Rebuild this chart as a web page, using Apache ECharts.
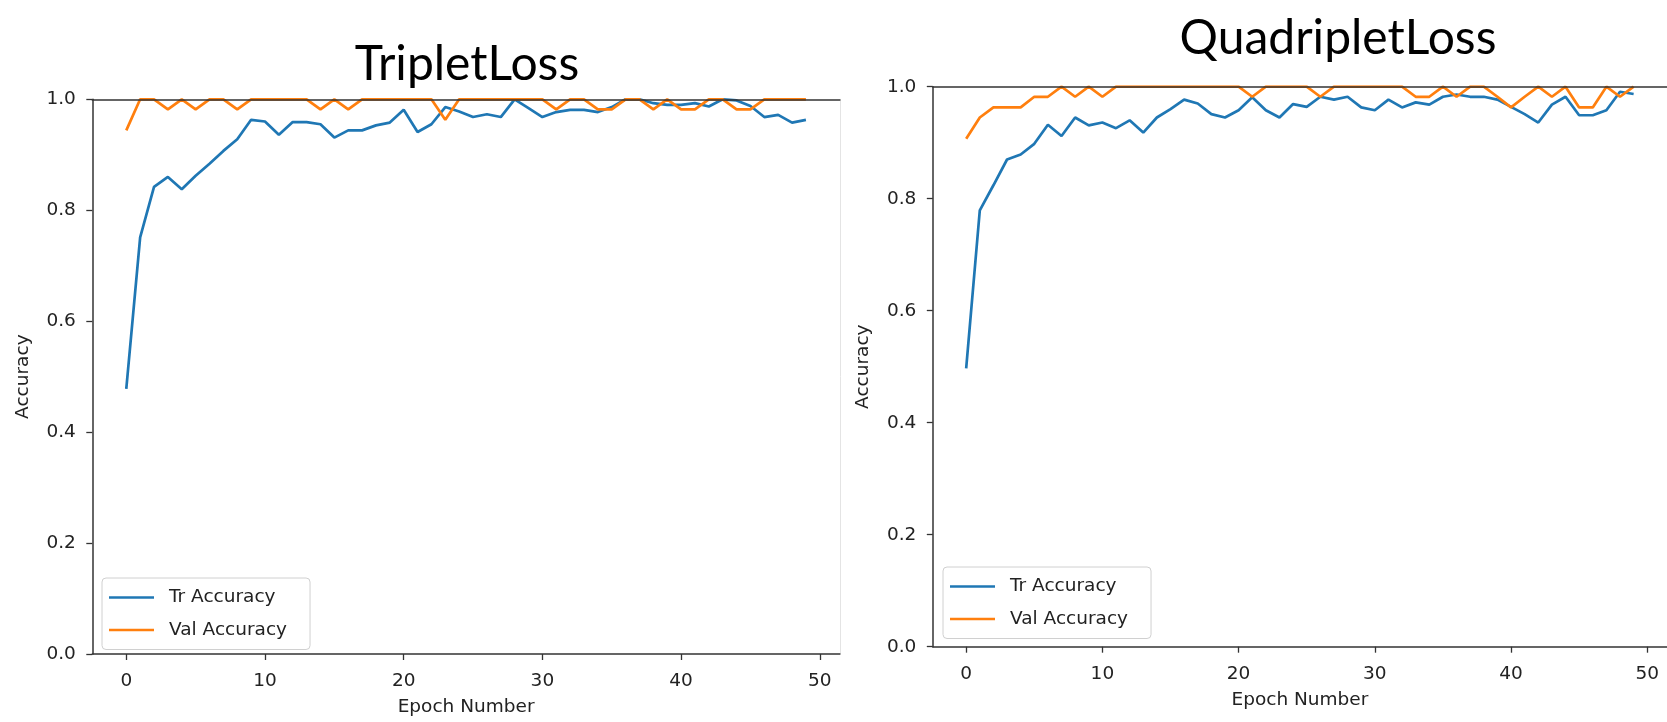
<!DOCTYPE html>
<html>
<head>
<meta charset="utf-8">
<script src="https://cdn.jsdelivr.net/npm/echarts@6/dist/echarts.min.js"></script>
<style>
html,body{margin:0;padding:0;background:#fff;}
#chart{width:1667px;height:722px;}
</style>
</head>
<body>
<div id="chart"></div>
<script>
// ---- data ----
const epochs = Array.from({length: 50}, (_, i) => i);
const xTicks = [0, 10, 20, 30, 40, 50];
const yTicks = [0, 0.2, 0.4, 0.6, 0.8, 1.0];
const titles = ['TripletLoss', 'QuadripletLoss'];
const seriesNames = ['Tr Accuracy', 'Val Accuracy'];

const tripletTr = [0.478,0.751,0.842,0.860,0.838,0.862,0.884,0.907,0.928,0.963,
  0.960,0.936,0.959,0.959,0.955,0.931,0.944,0.944,0.953,0.958,
  0.981,0.941,0.955,0.986,0.978,0.968,0.973,0.968,1.000,0.984,
  0.968,0.977,0.981,0.981,0.977,0.986,1.000,1.000,0.993,0.990,
  0.990,0.993,0.987,1.000,0.998,0.988,0.968,0.972,0.958,0.963];
const tripletVal = [0.944,1,1,0.982,1,0.982,1,1,0.982,1,
  1,1,1,1,0.982,1,0.982,1,1,1,
  1,1,1,0.963,1,1,1,1,1,1,
  1,0.982,1,1,0.982,0.982,1,1,0.982,1,
  0.982,0.982,1,1,0.982,0.982,1,1,1,1];
const quadTr = [0.497,0.779,0.824,0.870,0.879,0.898,0.932,0.912,0.945,0.931,
  0.936,0.926,0.940,0.918,0.945,0.960,0.977,0.970,0.951,0.945,
  0.958,0.981,0.958,0.945,0.969,0.964,0.982,0.977,0.982,0.963,
  0.958,0.977,0.963,0.972,0.968,0.982,0.986,0.982,0.982,0.977,
  0.964,0.951,0.936,0.968,0.982,0.949,0.949,0.958,0.991,0.987];
const quadVal = [0.907,0.945,0.963,0.963,0.963,0.982,0.982,1,0.982,1,
  0.982,1,1,1,1,1,1,1,1,1,
  1,0.982,1,1,1,1,0.982,1,1,1,
  1,1,1,0.982,0.982,1,0.982,1,1,0.982,
  0.963,0.982,1,0.982,1,0.963,0.963,1,0.982,1];

// ---- styles ----
const BLUE = '#1f77b4', ORANGE = '#ff7f0e';
const FONT = 'DejaVu Sans';
const FS = 18.5;
const SPINE = {show: true, onZero: false, lineStyle: {color: '#333', width: 1.5}};

function pairs(ys) { return epochs.map((e, i) => [e, ys[i]]); }

function bottomX(grid) {
  return {
    gridIndex: grid, type: 'value', position: 'bottom', min: -2.45, max: 51.45,
    axisLine: SPINE,
    axisTick: {show: true, inside: false, length: 6, customValues: xTicks, lineStyle: {color: '#333', width: 1.3}},
    axisLabel: {show: true, customValues: xTicks, margin: 17.5, fontSize: FS, fontFamily: FONT, color: '#222'},
    splitLine: {show: false},
    name: 'Epoch Number', nameLocation: 'middle', nameGap: 44,
    nameTextStyle: {fontSize: FS, fontFamily: FONT, color: '#222'}
  };
}
function topX(grid) {
  return {
    gridIndex: grid, type: 'value', position: 'top', min: -2.45, max: 51.45, z: 5,
    axisLine: SPINE,
    axisTick: {show: false}, axisLabel: {show: false}, splitLine: {show: false}
  };
}
function leftY(grid) {
  return {
    gridIndex: grid, type: 'value', position: 'left', min: 0, max: 1, interval: 0.2,
    axisLine: SPINE,
    axisTick: {show: true, inside: false, length: 6, lineStyle: {color: '#333', width: 1.3}},
    axisLabel: {margin: 16.5, fontSize: FS, fontFamily: FONT, color: '#222', formatter: v => v.toFixed(1)},
    splitLine: {show: false},
    name: 'Accuracy', nameLocation: 'middle', nameGap: 60, nameRotate: 90,
    nameTextStyle: {fontSize: FS, fontFamily: FONT, color: '#222'}
  };
}
function rightEdgeY(grid) {
  return {
    gridIndex: grid, type: 'value', position: 'right', min: 0, max: 1, interval: 0.2,
    axisLine: {show: true, onZero: false, lineStyle: {color: '#e4e4e4', width: 1}},
    axisTick: {show: false}, axisLabel: {show: false}, splitLine: {show: false}
  };
}
function line(name, data, color, xi, yi) {
  return {
    type: 'line', name: name, data: pairs(data), xAxisIndex: xi, yAxisIndex: yi,
    showSymbol: false, symbol: 'none', clip: true, color: color,
    lineStyle: {color: color, width: 2.7}, emphasis: {disabled: true}, z: 2
  };
}
function legend(left, top) {
  return {
    data: seriesNames, orient: 'vertical', left: left, top: top,
    icon: 'rect', itemWidth: 45, itemHeight: 2.7, itemGap: 13.5,
    backgroundColor: 'rgba(255,255,255,0.8)', borderColor: '#d0d0d0', borderWidth: 1, borderRadius: 4,
    padding: [10, 23, 10, 7], selectedMode: false,
    textStyle: {fontSize: FS, fontFamily: FONT, color: '#222', padding: [0, 0, 0, 10]}
  };
}

const chart = echarts.init(document.getElementById('chart'), null, {renderer: 'canvas'});
chart.setOption({
  backgroundColor: '#fff',
  animation: false,
  title: [
    {text: titles[0], left: 467, top: 41, textAlign: 'center', padding: 0,
     textStyle: {fontFamily: 'Lato', fontSize: 48, fontWeight: 'normal', color: '#000'}},
    {text: titles[1], left: 1338, top: 15, textAlign: 'center', padding: 0,
     textStyle: {fontFamily: 'Lato', fontSize: 48, fontWeight: 'normal', color: '#000'}}
  ],
  grid: [
    {left: 92.3, top: 99.3, width: 747.6, height: 558.7},
    {left: 932.8, top: 86.7, width: 751.6, height: 560}
  ],
  xAxis: [bottomX(0), topX(0), bottomX(1), topX(1)],
  yAxis: [leftY(0), leftY(1), rightEdgeY(0)],
  legend: [legend(102, 578), legend(943, 567)],
  series: [
    line(seriesNames[0], tripletTr, BLUE, 0, 0),
    line(seriesNames[1], tripletVal, ORANGE, 0, 0),
    line(seriesNames[0], quadTr, BLUE, 2, 1),
    line(seriesNames[1], quadVal, ORANGE, 2, 1)
  ]
});
</script>
</body>
</html>
